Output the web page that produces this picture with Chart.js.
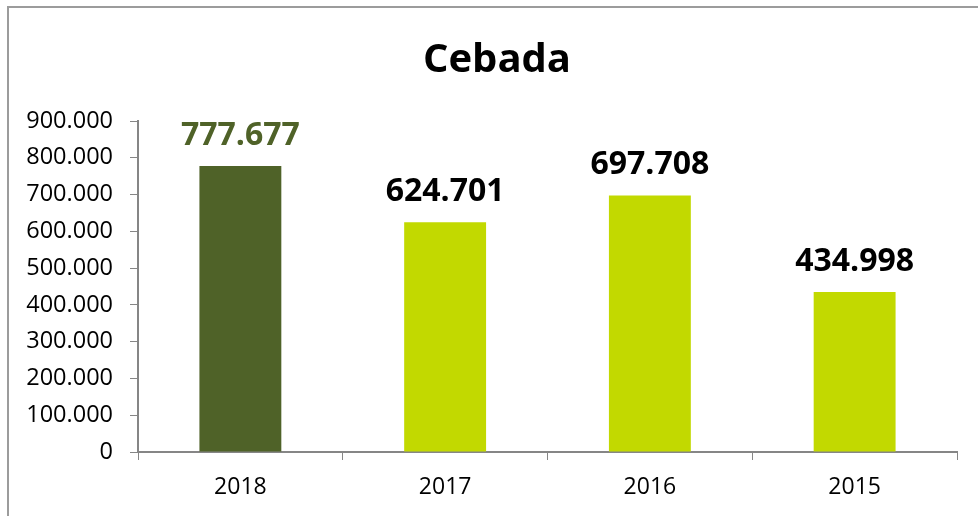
<!DOCTYPE html>
<html>
<head>
<meta charset="utf-8">
<script src="https://cdn.jsdelivr.net/npm/chart.js@4"></script>
<style>
  html, body { margin: 0; padding: 0; background: #fff; overflow: hidden; }
  #frame { position: absolute; left: 7px; top: 6px; width: 1200px; height: 800px;
           border-top: 2px solid #9c9c9c; border-left: 2px solid #9c9c9c; }
  #wrap { position: absolute; left: 0; top: 0; width: 978px; height: 516px; }
</style>
</head>
<body>
<div id="frame"></div>
<div id="wrap"><canvas id="barChart"></canvas></div>
<script>
const chartTitle = "Cebada";
const years = ["2018", "2017", "2016", "2015"];
const tonnes = [777677, 624701, 697708, 434998];
const barColors = ["#4F6228", "#C2D900", "#C2D900", "#C2D900"];
const labelColors = ["#4F6228", "#000000", "#000000", "#000000"];

function fmt(v) {
  // Spanish style thousands separator
  return String(Math.round(v)).replace(/\B(?=(\d{3})+(?!\d))/g, ".");
}

// values above bars + title centred on the whole frame
const valueLabels = {
  id: "valueLabels",
  afterDatasetsDraw(chart) {
    const ctx = chart.ctx;
    const meta = chart.getDatasetMeta(0);
    ctx.save();
    ctx.font = "bold 32px 'Open Sans'";
    ctx.textAlign = "center";
    ctx.textBaseline = "alphabetic";
    meta.data.forEach((bar, i) => {
      ctx.fillStyle = labelColors[i];
      ctx.fillText(fmt(tonnes[i]), bar.x, bar.y - 21);
    });
    ctx.fillStyle = "#000";
    ctx.font = "bold 40px 'Open Sans'";
    ctx.textBaseline = "middle";
    ctx.fillText(chartTitle, 497, 61);
    ctx.restore();
  }
};

new Chart("barChart", {
  type: "bar",
  data: {
    labels: years,
    datasets: [{
      data: tonnes,
      backgroundColor: barColors,
      barPercentage: 0.4,
      categoryPercentage: 1
    }]
  },
  plugins: [valueLabels],
  options: {
    responsive: true,
    maintainAspectRatio: false,
    animation: false,
    layout: { padding: { left: 0, right: 21, top: 121, bottom: 0 } },
    plugins: {
      legend: { display: false },
      tooltip: { enabled: false },
      title: { display: false }
    },
    scales: {
      x: {
        afterFit(scale) { scale.height = 64; },
        grid: { display: true, drawOnChartArea: false, drawTicks: true, tickLength: 8, color: "#868686", offset: true },
        border: { display: true, color: "#868686", width: 2 },
        ticks: { color: "#000", font: { family: "'Open Sans'", size: 23 }, padding: 14 }
      },
      y: {
        min: 0,
        max: 900000,
        afterFit(scale) { scale.width = 138; },
        grid: { display: true, drawOnChartArea: false, drawTicks: true, tickLength: 8, color: "#868686" },
        border: { display: true, color: "#868686", width: 2 },
        ticks: {
          stepSize: 100000,
          color: "#000",
          font: { family: "'Open Sans'", size: 23.5 },
          padding: 17,
          callback: (v) => fmt(v)
        }
      }
    }
  }
});
</script>
</body>
</html>
